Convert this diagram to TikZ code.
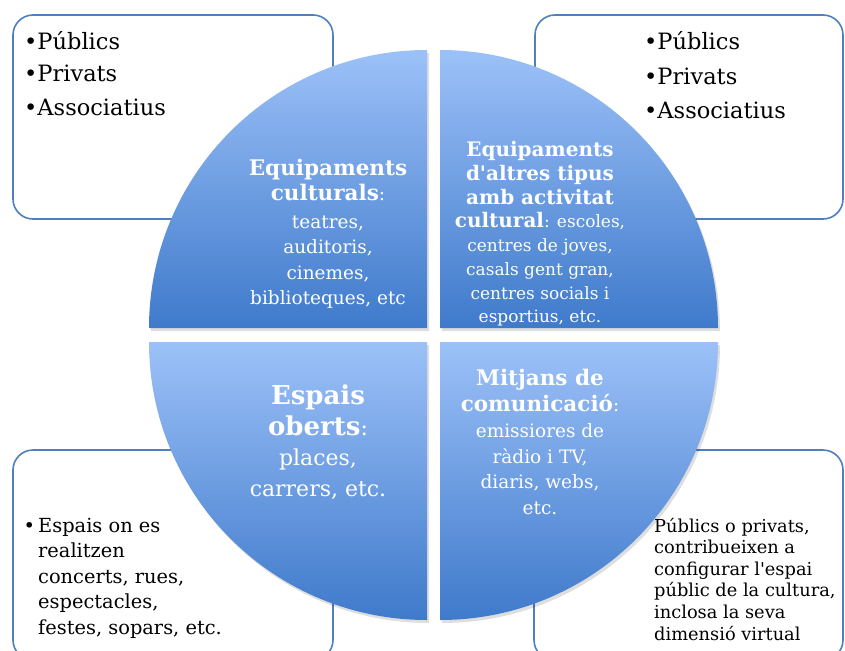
\documentclass[tikz,border=0pt]{standalone}
\usepackage{fontspec}
\setmainfont{DejaVu Serif}
\definecolor{boxline}{HTML}{4F7FBE}
\definecolor{qtop}{HTML}{9CC1F8}
\definecolor{qbot}{HTML}{3F7ACB}
\newcommand\fsz[2]{\fontsize{#1}{#2}\selectfont}
\tikzset{
  infobox/.style={draw=boxline, line width=1.6pt, fill=white, rounded corners=20pt},
  quad/.style={top color=qtop, bottom color=qbot, shading=axis},
  qshadow/.style={fill=black, opacity=0.13},
  qtext/.style={text=white, align=center, inner sep=0pt},
  btext/.style={text=black, align=left, inner sep=0pt, anchor=base west},
}
\begin{document}
\begin{tikzpicture}[x=1pt,y=-1pt]
\useasboundingbox (0,0) rectangle (845,650);
\clip (0,0) rectangle (845,650);
\fill[white] (0,0) rectangle (845,650);
% corner boxes
\draw[infobox] (13,15) rectangle (333,219);
\draw[infobox] (535,15) rectangle (843,219);
\draw[infobox] (13,450) rectangle (333,660);
\draw[infobox] (534,450) rectangle (843,660);
% shadows
\fill[qshadow] (429,331) -- (151,331) arc(180:270:278) -- cycle;
\fill[qshadow] (442,331) -- (442,53) arc(270:360:278) -- cycle;
\fill[qshadow] (429,345) -- (151,345) arc(180:90:278) -- cycle;
\fill[qshadow] (442,345) -- (720,345) arc(0:90:278) -- cycle;
% quadrants
\shade[quad] (427,328) -- (149,328) arc(180:270:278) -- cycle;
\shade[quad] (440,328) -- (440,50) arc(270:360:278) -- cycle;
\shade[quad] (427,342) -- (149,342) arc(180:90:278) -- cycle;
\shade[quad] (440,342) -- (718,342) arc(0:90:278) -- cycle;
% quadrant texts
\node[qtext, font=\fsz{18.5}{25.5}] (q1) at (328,234)
  {{\fsz{21.5}{25.5}\bfseries Equipaments}\\
   {\fsz{21.5}{25.5}\bfseries culturals}:\\[2pt]
   teatres,\\ auditoris,\\ cinemes,\\ biblioteques, etc};
\node[qtext, font=\fsz{17}{23.7}] (q2) at (540,234)
  {{\fsz{20}{23.7}\bfseries Equipaments}\\
   {\fsz{20}{23.7}\bfseries d\textquotesingle altres tipus}\\
   {\fsz{20}{23.7}\bfseries amb activitat}\\
   {\fsz{20}{23.7}\bfseries cultural}: escoles,\\
   centres de joves,\\ casals gent gran,\\ centres socials i\\ esportius, etc.};
\node[qtext, font=\fsz{22}{30.5}] (q3) at (318,442)
  {{\fsz{26}{30.5}\bfseries Espais}\\
   {\fsz{26}{30.5}\bfseries oberts}:\\
   places,\\ carrers, etc.};
\node[qtext, font=\fsz{18.5}{25.5}] (q4) at (540,442)
  {{\fsz{21.5}{25.5}\bfseries Mitjans de}\\
   {\fsz{21.5}{25.5}\bfseries comunicació}:\\[1pt]
   emissiores de\\ ràdio i TV,\\ diaris, webs,\\ etc.};
% box texts
\node[btext, font=\fsz{22.5}{33}] (t1) at (24,115) {•Públics\\ •Privats\\ •Associatius};
\node[btext, font=\fsz{22.5}{34}] (t2) at (644,118) {•Públics\\ •Privats\\ •Associatius};
\node[btext, font=\fsz{19.4}{25.5}] (t3) at (38,634) {\llap{•\,}Espais on es\\ realitzen\\ concerts, rues,\\ espectacles,\\ festes, sopars, etc.};
\node[btext, font=\fsz{17.8}{21.6}] (t4) at (654,640) {Públics o privats,\\ contribueixen a\\ configurar l\textquotesingle espai\\ públic de la cultura,\\ inclosa la seva\\ dimensió virtual};
\end{tikzpicture}
\end{document}
